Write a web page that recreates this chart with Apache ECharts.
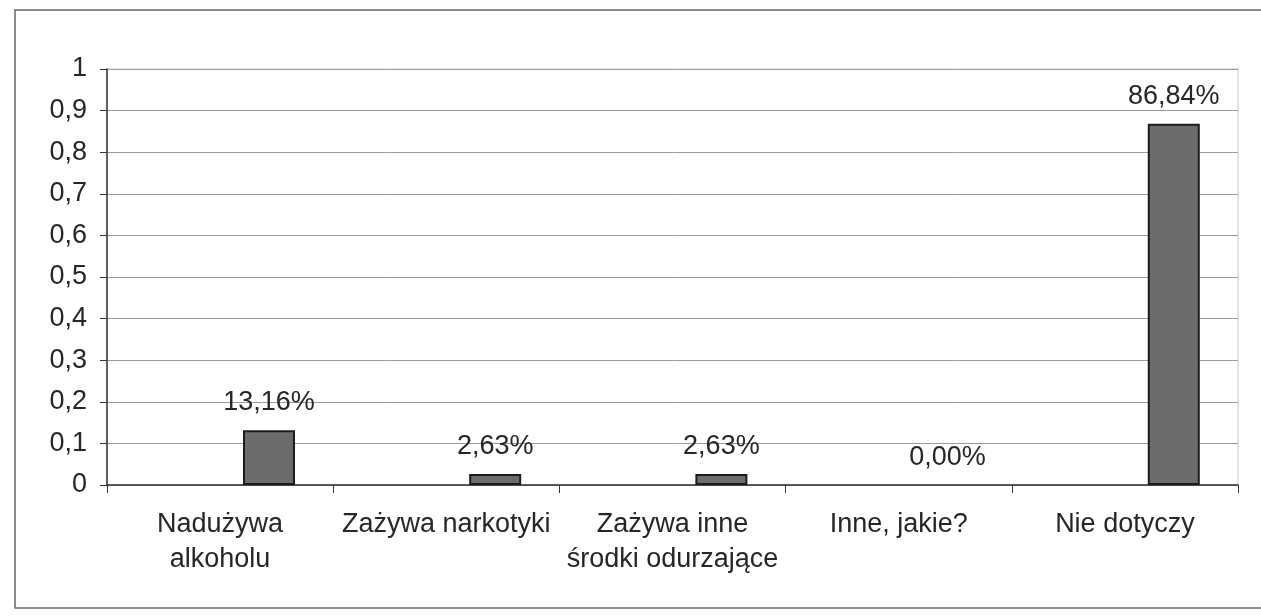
<!DOCTYPE html>
<html>
<head>
<meta charset="utf-8">
<script src="https://cdn.jsdelivr.net/npm/echarts@6/dist/echarts.min.js"></script>
<style>
html, body { margin: 0; padding: 0; background: #fff; }
#chart { width: 1261px; height: 616px; }
</style>
</head>
<body>
<div id="chart"></div>
<script>
var categories = ['Nadużywa\nalkoholu', 'Zażywa narkotyki', 'Zażywa inne\nśrodki odurzające', 'Inne, jakie?', 'Nie dotyczy'];
var values = [0.1316, 0.0263, 0.0263, 0, 0.8684];
var emptySeries = [null, null, null, null, null];  // pusta seria - słupki przesunięte w prawo jak w oryginale
var yMin = 0, yMax = 1, yStep = 0.1;

var font = "'Liberation Sans', Arial, sans-serif";
var textColor = '#262626';

// słupek o wartości 0 bez obramowania (etykieta zostaje)
var barData = values.map(function (v) {
    return v === 0 ? { value: v, itemStyle: { borderWidth: 0, color: 'rgba(0,0,0,0)' } } : v;
});

var myChart = echarts.init(document.getElementById('chart'));
var option = {
    animation: false,
    backgroundColor: '#fff',
    textStyle: { fontFamily: font },
    graphic: [{
        type: 'rect',
        shape: { x: 15, y: 10, width: 1270, height: 598 },
        style: { fill: 'none', stroke: '#666', lineWidth: 1.5 },
        silent: true
    }],
    grid: {
        left: 107,
        right: 23,
        top: 69,
        bottom: 131,
        show: true,
        borderColor: '#c8c8c8',
        borderWidth: 1
    },
    xAxis: {
        type: 'category',
        data: categories,
        axisLine: { lineStyle: { color: '#333', width: 1.5 } },
        axisTick: { show: true, length: 8, lineStyle: { color: '#333' } },
        axisLabel: {
            interval: 0,
            margin: 22,
            fontSize: 27,
            lineHeight: 35,
            color: textColor,
            fontFamily: font
        }
    },
    yAxis: {
        type: 'value',
        min: yMin,
        max: yMax,
        interval: yStep,
        axisLine: { show: true, lineStyle: { color: '#333', width: 1.5 } },
        axisTick: { show: true, length: 7, lineStyle: { color: '#333' } },
        axisLabel: {
            margin: 20,
            fontSize: 27,
            color: textColor,
            fontFamily: font,
            formatter: function (v) {
                return String(Math.round(v * 10) / 10).replace('.', ',');
            }
        },
        splitLine: { lineStyle: { color: '#9a9a9a', width: 1 } }
    },
    series: [
        {
            name: 'pusta',
            type: 'bar',
            barWidth: 52,
            barGap: '88%',
            data: emptySeries
        },
        {
            name: 'Odsetek',
            type: 'bar',
            barWidth: 52,
            data: barData,
            itemStyle: {
                color: '#6c6c6c',
                borderColor: '#1c1c1c',
                borderWidth: 2
            },
            label: {
                show: true,
                position: 'top',
                distance: 14,
                fontSize: 27,
                color: textColor,
                fontFamily: font,
                formatter: function (p) {
                    return (p.value * 100).toFixed(2).replace('.', ',') + '%';
                }
            }
        }
    ]
};
myChart.setOption(option, true);
</script>
</body>
</html>
